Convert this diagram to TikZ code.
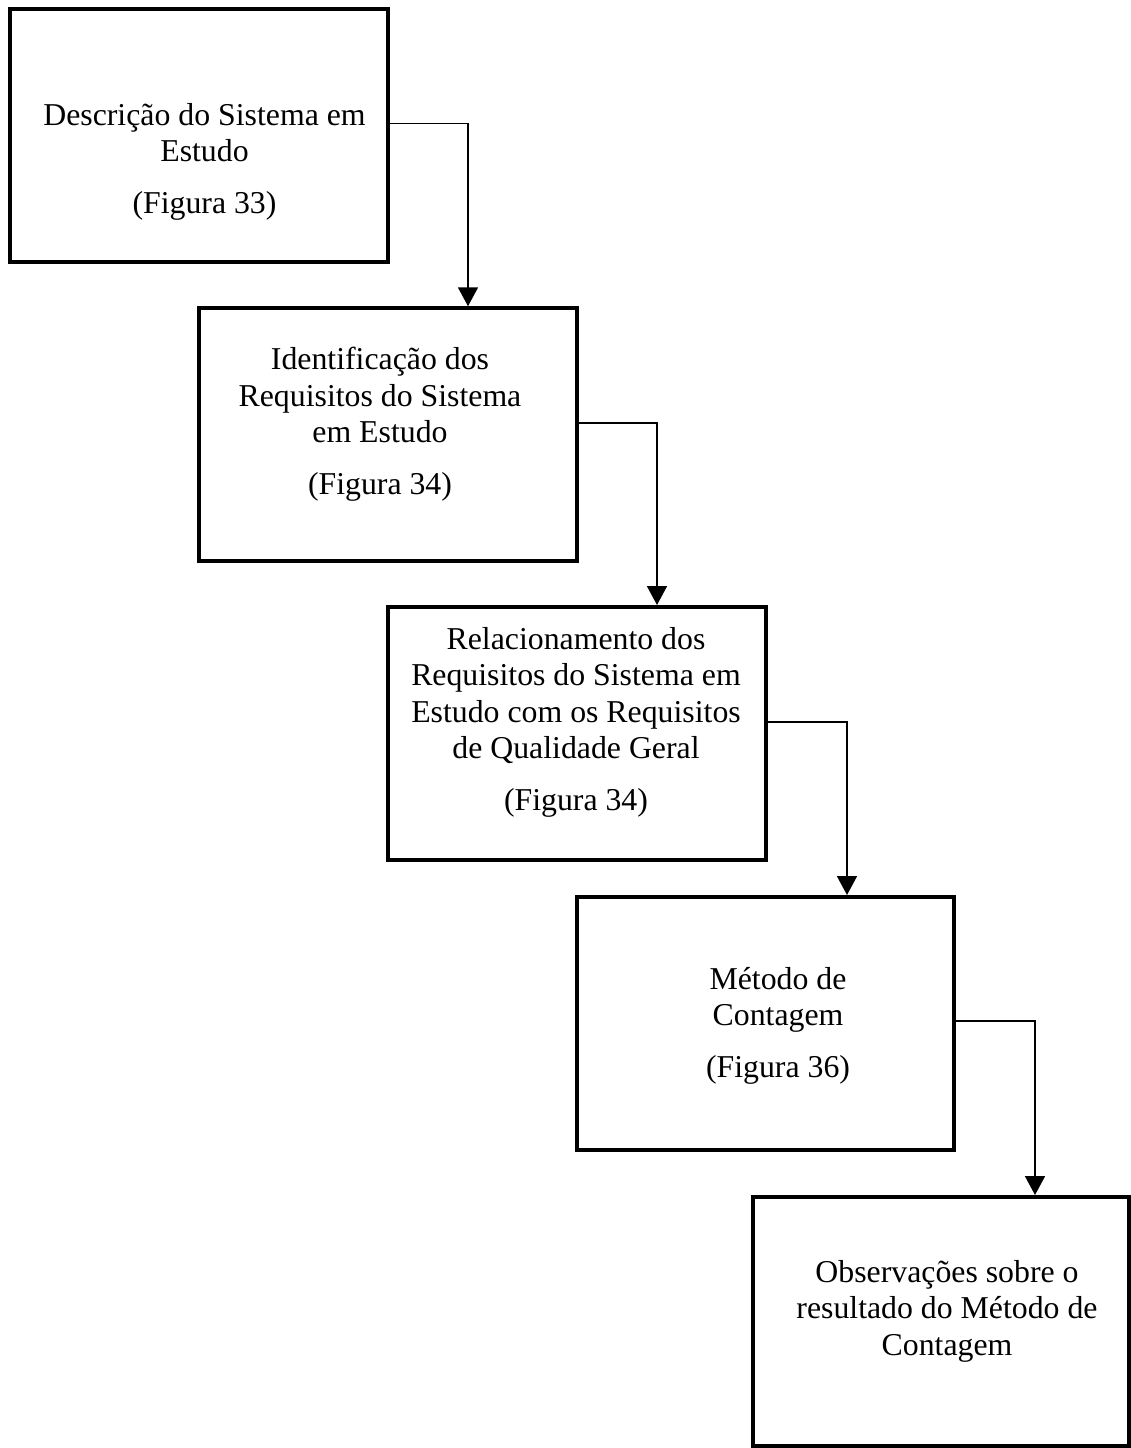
\documentclass[tikz,border=0pt]{standalone}
\usepackage{fontspec}
\setmainfont{Liberation Serif}
\usetikzlibrary{arrows.meta}
\begin{document}
\begin{tikzpicture}[x=1pt,y=-1pt,
  stagebox/.style={draw, line width=4pt, rectangle, inner sep=0pt,
    minimum width=378pt, minimum height=253pt},
  stagetext/.style={align=center, anchor=base, inner sep=0pt,
    font=\fontsize{31.8}{36.5}\selectfont},
  flow/.style={line width=1.8pt, -{Triangle[width=20pt,length=19pt]}}
]
\useasboundingbox (0,0) rectangle (1131,1448);

% stage boxes, stepping down to the right
\node[stagebox] (b1) at (199,135.5) {};
\node[stagebox] (b2) at (388,434.75) {};
\node[stagebox] (b3) at (577,733.5) {};
\node[stagebox, minimum width=377pt] (b4) at (765.5,1023.5) {};
\node[stagebox, minimum width=376pt, minimum height=249pt] (b5) at (941,1321.5) {};

% box captions (anchored at the baseline of their last line)
\node[stagetext] (t1) at (204.5,213) {Descrição do Sistema em\\Estudo\\[15pt](Figura 33)};
\node[stagetext] (t2) at (380,494) {Identificação dos\\Requisitos do Sistema\\em Estudo\\[15pt](Figura 34)};
\node[stagetext] (t3) at (576,810) {Relacionamento dos\\Requisitos do Sistema em\\Estudo com os Requisitos\\de Qualidade Geral\\[15pt](Figura 34)};
\node[stagetext] (t4) at (778,1077) {Método de\\Contagem\\[15pt](Figura 36)};
\node[stagetext] (t5) at (947,1355) {Observações sobre o\\resultado do Método de\\Contagem};

% elbow connectors from each box to the next
\draw[flow] ([yshift=12pt]b1.east) -| ([xshift=80pt]b2.north);
\draw[flow] ([yshift=11.75pt]b2.east) -| ([xshift=80pt]b3.north);
\draw[flow] ([yshift=11.5pt]b3.east) -| ([xshift=81.5pt]b4.north);
\draw[flow] ([yshift=2.5pt]b4.east) -| ([xshift=94pt]b5.north);
\end{tikzpicture}
\end{document}
